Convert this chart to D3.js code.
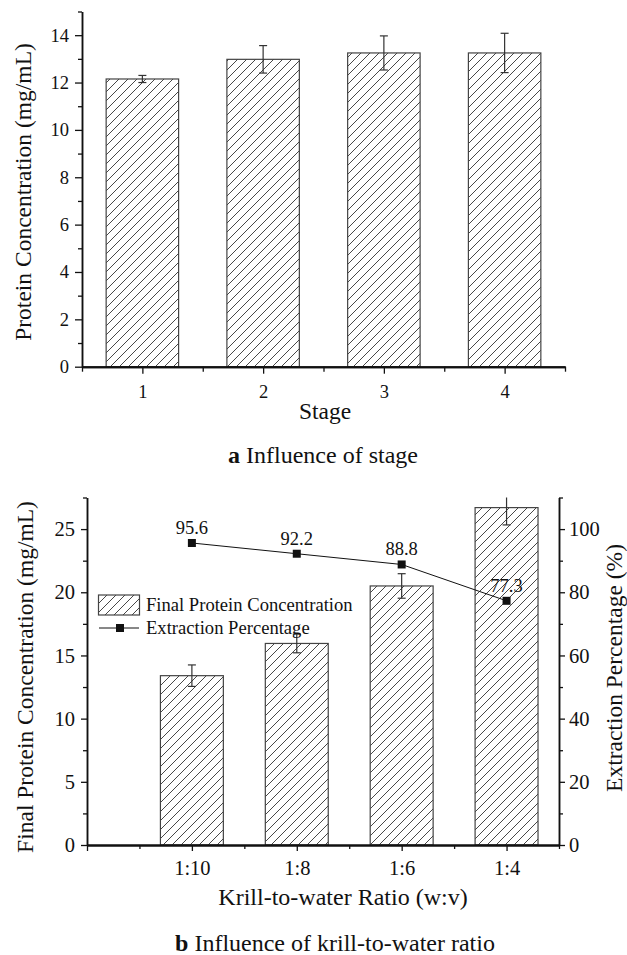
<!DOCTYPE html>
<html>
<head>
<meta charset="utf-8">
<script src="https://cdn.jsdelivr.net/npm/d3@7"></script>
<style>
  body { margin: 0; background: #fff; }
  svg text { font-family: "Liberation Serif", "Times New Roman", serif; fill: #111; }
</style>
</head>
<body>
<div id="chart"></div>
<script>
// panel a data
var stages = [1, 2, 3, 4];
var stageConc = [12.15, 12.98, 13.25, 13.25];
var stageErr = [0.15, 0.58, 0.72, 0.83];

// panel b data
var ratios = ['1:10', '1:8', '1:6', '1:4'];
var finalConc = [13.4, 15.95, 20.5, 26.7];
var finalErr = [0.85, 0.74, 0.97, 1.37];
var extraction = [95.6, 92.2, 88.8, 77.3];

var width = 627, height = 955;

var svg = d3.select('#chart').append('svg')
  .attr('width', width)
  .attr('height', height);

// hatch pattern
var defs = svg.append('defs');
defs.append('pattern')
  .attr('id', 'hatch')
  .attr('patternUnits', 'userSpaceOnUse')
  .attr('width', 9)
  .attr('height', 9)
  .append('path')
    .attr('d', 'M0,9 L9,0 M-2,2 L2,-2 M7,11 L11,7')
    .attr('stroke', '#333')
    .attr('stroke-width', 0.9);

function styleAxis(g, w, fs) {
  g.selectAll('.domain').attr('stroke', '#111').attr('stroke-width', w || 1.5);
  g.selectAll('.tick line').attr('stroke', '#111').attr('stroke-width', 1.3);
  g.selectAll('.tick text').style('font-size', (fs || 18.5) + 'px').attr('fill', '#111');
}

// ---------------- panel a ----------------
var xA = d3.scaleLinear().domain([0.5, 4.5]).range([82, 565]);
var yA = d3.scaleLinear().domain([0, 15]).range([366.7, 11.5]);
var barWA = 0.6 * (xA(2) - xA(1));

var gA = svg.append('g');

gA.selectAll('rect.bar')
  .data(stageConc)
  .enter().append('rect')
    .attr('class', 'bar')
    .attr('x', function(d, i) { return xA(stages[i]) - barWA / 2; })
    .attr('y', function(d) { return yA(d); })
    .attr('width', barWA)
    .attr('height', function(d) { return yA(0) - yA(d); })
    .style('fill', 'url(#hatch)')
    .style('stroke', '#444')
    .style('stroke-width', 1.2);

// error bars
stageConc.forEach(function(d, i) {
  var cx = xA(stages[i]);
  var lo = yA(d - stageErr[i]), hi = yA(d + stageErr[i]);
  var eg = gA.append('g').attr('stroke', '#333').attr('stroke-width', 1.2);
  eg.append('line').attr('x1', cx).attr('x2', cx).attr('y1', lo).attr('y2', hi);
  eg.append('line').attr('x1', cx - 4).attr('x2', cx + 4).attr('y1', lo).attr('y2', lo);
  eg.append('line').attr('x1', cx - 4).attr('x2', cx + 4).attr('y1', hi).attr('y2', hi);
});

// axes
var axA_left = gA.append('g').attr('transform', 'translate(82,0)')
  .call(d3.axisLeft(yA).tickValues(d3.range(0, 15, 2)).tickSize(7).tickPadding(6).tickSizeOuter(0));
styleAxis(axA_left, 1.5, 18.5);
var axA_leftMinor = gA.append('g').attr('transform', 'translate(82,0)')
  .call(d3.axisLeft(yA).tickValues(d3.range(1, 16, 2)).tickSize(4).tickFormat('').tickSizeOuter(0));
styleAxis(axA_leftMinor);

var axA_bot = gA.append('g').attr('transform', 'translate(0,' + yA(0) + ')')
  .call(d3.axisBottom(xA).tickValues(stages).tickSize(7).tickPadding(11).tickFormat(d3.format('d')).tickSizeOuter(0));
styleAxis(axA_bot, 2, 18.5);
var axA_botMinor = gA.append('g').attr('transform', 'translate(0,' + yA(0) + ')')
  .call(d3.axisBottom(xA).tickValues([0.5, 1.5, 2.5, 3.5, 4.5]).tickSize(5).tickFormat('').tickSizeOuter(0));
styleAxis(axA_botMinor, 2);

gA.append('text')
  .attr('transform', 'translate(31,192) rotate(-90)')
  .attr('text-anchor', 'middle')
  .style('font-size', '23.5px')
  .text('Protein Concentration (mg/mL)');

gA.append('text')
  .attr('x', 325).attr('y', 419)
  .attr('text-anchor', 'middle')
  .style('font-size', '23.5px')
  .text('Stage');

var capA = gA.append('text')
  .attr('x', 323).attr('y', 463)
  .attr('text-anchor', 'middle')
  .style('font-size', '24px');
capA.append('tspan').style('font-weight', 'bold').text('a');
capA.append('tspan').text(' Influence of stage');

// ---------------- panel b ----------------
var xB = d3.scaleLinear().domain([0, 4.5]).range([87, 559]);
var yB = d3.scaleLinear().domain([0, 27.5]).range([845, 497.5]);
var yR = d3.scaleLinear().domain([0, 110]).range([845, 497.5]);
var barWB = 0.6 * (xB(2) - xB(1));

var gB = svg.append('g');

defs.append('clipPath').attr('id', 'clipB')
  .append('rect').attr('x', 87).attr('y', 497.5).attr('width', 472).attr('height', 348);

gB.selectAll('rect.bar')
  .data(finalConc)
  .enter().append('rect')
    .attr('class', 'bar')
    .attr('x', function(d, i) { return xB(i + 1) - barWB / 2; })
    .attr('y', function(d) { return yB(d); })
    .attr('width', barWB)
    .attr('height', function(d) { return yB(0) - yB(d); })
    .style('fill', 'url(#hatch)')
    .style('stroke', '#444')
    .style('stroke-width', 1.2);

var errB = gB.append('g').attr('clip-path', 'url(#clipB)');
finalConc.forEach(function(d, i) {
  var cx = xB(i + 1);
  var lo = yB(d - finalErr[i]), hi = yB(d + finalErr[i]);
  var eg = errB.append('g').attr('stroke', '#333').attr('stroke-width', 1.2);
  eg.append('line').attr('x1', cx).attr('x2', cx).attr('y1', lo).attr('y2', hi);
  eg.append('line').attr('x1', cx - 4).attr('x2', cx + 4).attr('y1', lo).attr('y2', lo);
  eg.append('line').attr('x1', cx - 4).attr('x2', cx + 4).attr('y1', hi).attr('y2', hi);
});

// extraction line
var line = d3.line()
  .x(function(d, i) { return xB(i + 1); })
  .y(function(d) { return yR(d); });

gB.append('path')
  .datum(extraction)
  .attr('d', line)
  .attr('fill', 'none')
  .attr('stroke', '#111')
  .attr('stroke-width', 1);

gB.selectAll('rect.pt')
  .data(extraction)
  .enter().append('rect')
    .attr('class', 'pt')
    .attr('x', function(d, i) { return xB(i + 1) - 4; })
    .attr('y', function(d) { return yR(d) - 4; })
    .attr('width', 8)
    .attr('height', 8)
    .style('fill', '#111');

gB.selectAll('text.lbl')
  .data(extraction)
  .enter().append('text')
    .attr('class', 'lbl')
    .attr('x', function(d, i) { return xB(i + 1); })
    .attr('y', function(d) { return yR(d) - 9; })
    .attr('text-anchor', 'middle')
    .style('font-size', '18.5px')
    .text(function(d) { return d.toFixed(1); });

// axes
var axB_left = gB.append('g').attr('transform', 'translate(87,0)')
  .call(d3.axisLeft(yB).tickValues(d3.range(0, 26, 5)).tickSize(6).tickPadding(6).tickSizeOuter(0));
styleAxis(axB_left, 1.5, 20.5);
var axB_leftMinor = gB.append('g').attr('transform', 'translate(87,0)')
  .call(d3.axisLeft(yB).tickValues([2.5, 7.5, 12.5, 17.5, 22.5, 27.5]).tickSize(4).tickFormat('').tickSizeOuter(0));
styleAxis(axB_leftMinor);

var axB_right = gB.append('g').attr('transform', 'translate(559,0)')
  .call(d3.axisRight(yR).tickValues(d3.range(0, 101, 20)).tickSize(6).tickPadding(4).tickSizeOuter(0));
styleAxis(axB_right, 1.5, 20.5);
var axB_rightMinor = gB.append('g').attr('transform', 'translate(559,0)')
  .call(d3.axisRight(yR).tickValues(d3.range(10, 111, 20)).tickSize(4).tickFormat('').tickSizeOuter(0));
styleAxis(axB_rightMinor);

var axB_bot = gB.append('g').attr('transform', 'translate(0,' + yB(0) + ')')
  .call(d3.axisBottom(xB).tickValues([0, 1, 2, 3, 4]).tickSize(6).tickPadding(9)
    .tickFormat(function(d) { return d === 0 ? '' : ratios[d - 1]; }).tickSizeOuter(0));
styleAxis(axB_bot, 2, 20.5);
var axB_botMinor = gB.append('g').attr('transform', 'translate(0,' + yB(0) + ')')
  .call(d3.axisBottom(xB).tickValues([0.5, 1.5, 2.5, 3.5, 4.5]).tickSize(4).tickFormat('').tickSizeOuter(0));
styleAxis(axB_botMinor, 2);

gB.append('text')
  .attr('transform', 'translate(33,677) rotate(-90)')
  .attr('text-anchor', 'middle')
  .style('font-size', '23.5px')
  .text('Final Protein Concentration (mg/mL)');

gB.append('text')
  .attr('transform', 'translate(622,668) rotate(-90)')
  .attr('text-anchor', 'middle')
  .style('font-size', '23.5px')
  .text('Extraction Percentage (%)');

gB.append('text')
  .attr('x', 343).attr('y', 905)
  .attr('text-anchor', 'middle')
  .style('font-size', '24px')
  .text('Krill-to-water Ratio (w:v)');

var capB = gB.append('text')
  .attr('x', 335).attr('y', 951)
  .attr('text-anchor', 'middle')
  .style('font-size', '24px');
capB.append('tspan').style('font-weight', 'bold').text('b');
capB.append('tspan').text(' Influence of krill-to-water ratio');

// legend
var leg = gB.append('g');
leg.append('rect')
  .attr('x', 98.5).attr('y', 595).attr('width', 41).attr('height', 20)
  .style('fill', 'url(#hatch)').style('stroke', '#444').style('stroke-width', 1.2);
leg.append('text').attr('x', 146).attr('y', 611).style('font-size', '18.6px').text('Final Protein Concentration');
leg.append('line').attr('x1', 99).attr('x2', 139).attr('y1', 628).attr('y2', 628)
  .attr('stroke', '#111').attr('stroke-width', 1);
leg.append('rect').attr('x', 116).attr('y', 624).attr('width', 8).attr('height', 8).style('fill', '#111');
leg.append('text').attr('x', 146).attr('y', 634).style('font-size', '18.6px').text('Extraction Percentage');
</script>
</body>
</html>
